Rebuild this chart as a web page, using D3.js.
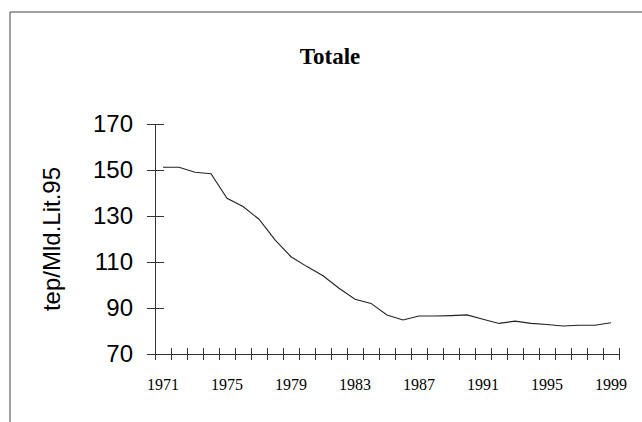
<!DOCTYPE html>
<html>
<head>
    <title>Totale</title>
    <script src="https://d3js.org/d3.v7.min.js"></script>
    <style>
        body { margin: 0; background: #fff; }
    </style>
</head>
<body>
<script>
    var w = 642;
    var h = 422;

    // data
    var years = d3.range(1971, 2000);
    var values = [151.2, 151.2, 149.0, 148.4, 137.7, 134.1, 128.6, 119.6, 112.3, 108.0,
                  104.0, 98.6, 93.8, 92.0, 87.0, 84.8, 86.5, 86.5, 86.7, 87.0,
                  85.1, 83.3, 84.3, 83.3, 82.8, 82.2, 82.5, 82.5, 83.6];
    var yTicks = [70, 90, 110, 130, 150, 170];
    var xLabels = [1971, 1975, 1979, 1983, 1987, 1991, 1995, 1999];

    var x0 = 155, x1 = 619;
    var y0 = 354, y1 = 124;

    // scales
    var xScale = d3.scaleLinear()
                   .domain([1970.5, 1999.5])
                   .range([x0, x1]);
    var yScale = d3.scaleLinear()
                   .domain([70, 170])
                   .range([y0, y1]);

    var svg = d3.select("body")
                .append("svg")
                .attr("width", w)
                .attr("height", h);

    // frame (top and left edges, as in the scan)
    svg.append("line")
       .attr("x1", 10).attr("y1", 12).attr("x2", 642).attr("y2", 12)
       .attr("stroke", "#444").attr("stroke-width", 1);
    svg.append("line")
       .attr("x1", 10).attr("y1", 12).attr("x2", 10).attr("y2", 422)
       .attr("stroke", "#444").attr("stroke-width", 1);

    // title
    svg.append("text")
       .text("Totale")
       .attr("x", 330)
       .attr("y", 64)
       .attr("text-anchor", "middle")
       .attr("font-family", "Liberation Serif, Times New Roman, serif")
       .attr("font-weight", "bold")
       .attr("font-size", "23px")
       .attr("fill", "#000");

    // y axis
    var yAxis = d3.axisLeft(yScale)
                  .tickValues(yTicks)
                  .tickSize(0)
                  .tickPadding(22);
    var gy = svg.append("g")
                .attr("transform", "translate(" + x0 + ",0)")
                .call(yAxis);
    gy.select(".domain").attr("stroke", "#333");
    gy.selectAll(".tick line")
      .attr("x1", -8).attr("x2", 9)
      .attr("stroke", "#333");
    gy.selectAll(".tick text")
      .attr("font-family", "Liberation Sans, Arial, sans-serif")
      .attr("font-size", "24px")
      .attr("fill", "#000");

    // x axis: ticks between categories, labels every 4 years
    var boundaries = d3.range(1970.5, 2000, 1);
    var xAxis = d3.axisBottom(xScale)
                  .tickValues(boundaries)
                  .tickSize(0)
                  .tickFormat("");
    var gx = svg.append("g")
                .attr("transform", "translate(0," + y0 + ")")
                .call(xAxis);
    gx.select(".domain").attr("stroke", "#333");
    gx.selectAll(".tick line")
      .attr("y1", -6).attr("y2", 6)
      .attr("stroke", "#333");

    svg.selectAll("text.xlab")
       .data(xLabels)
       .enter()
       .append("text")
       .attr("class", "xlab")
       .text(function(d){return d;})
       .attr("x", function(d){return xScale(d);})
       .attr("y", 390)
       .attr("text-anchor", "middle")
       .attr("font-family", "Liberation Serif, Times New Roman, serif")
       .attr("font-size", "16px")
       .attr("fill", "#000");

    // y axis title
    svg.append("text")
       .text("tep/Mld.Lit.95")
       .attr("transform", "translate(52," + (y0 + y1) / 2 + ") rotate(-90)")
       .attr("dy", "0.35em")
       .attr("text-anchor", "middle")
       .attr("font-family", "Liberation Sans, Arial, sans-serif")
       .attr("font-size", "24px")
       .attr("fill", "#000");

    // line
    var line = d3.line()
                 .x(function(d, i){return xScale(years[i]);})
                 .y(function(d){return yScale(d);});
    svg.append("path")
       .datum(values)
       .attr("d", line)
       .attr("fill", "none")
       .attr("stroke", "#222")
       .attr("stroke-width", 1.1);
</script>
</body>
</html>
